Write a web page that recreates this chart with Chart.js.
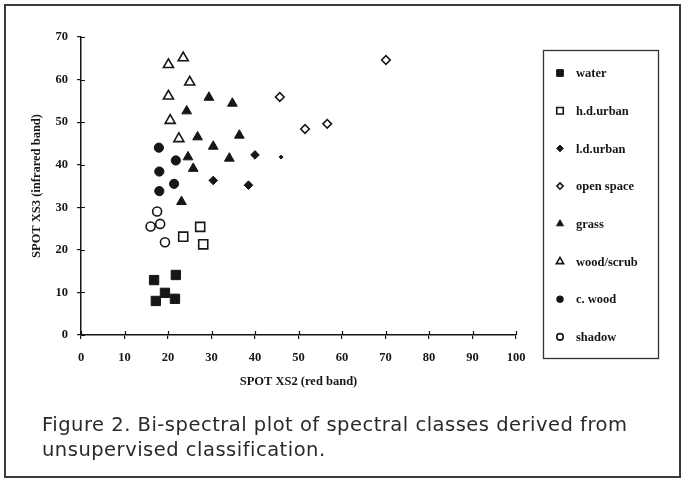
<!DOCTYPE html>
<html>
<head>
<meta charset="utf-8">
<script src="https://cdn.jsdelivr.net/npm/chart.js@4/dist/chart.umd.min.js"></script>
<style>
  html, body { margin: 0; padding: 0; background: #fff; }
  #wrap { width: 684px; height: 481px; position: relative; }
</style>
</head>
<body>
<div id="wrap"><canvas id="c" width="684" height="481"></canvas></div>
<script>
// ---- data ----
const classNames = ["water", "h.d.urban", "l.d.urban", "open space", "grass", "wood/scrub", "c. wood", "shadow"];

const water     = [[16.8, 12.9], [21.8, 14.1], [19.3, 9.9], [17.2, 8.0], [21.6, 8.5]];
const hdUrban   = [[23.5, 23.1], [27.4, 25.4], [28.1, 21.3]];
const ldUrban   = [[40.0, 42.3], [30.4, 36.3], [38.5, 35.2], [46.0, 41.8]];
const openSpace = [[70.1, 64.6], [45.7, 55.9], [51.5, 48.4], [56.6, 49.6]];
const grass     = [[29.4, 55.8], [34.8, 54.4], [24.3, 52.6], [26.8, 46.5], [36.4, 46.9],
                   [30.4, 44.3], [24.6, 41.8], [34.1, 41.5], [25.8, 39.1], [23.1, 31.3]];
const woodScrub = [[20.1, 63.5], [23.5, 65.1], [25.0, 59.4], [20.1, 56.1], [20.5, 50.4], [22.5, 46.1]];
const cWood     = [[17.9, 44.0], [21.8, 41.0], [18.0, 38.4], [21.4, 35.5], [18.0, 33.8]];
const shadow    = [[17.5, 29.0], [16.0, 25.5], [18.2, 26.1], [19.3, 21.8]];

const xTicks = [0, 10, 20, 30, 40, 50, 60, 70, 80, 90, 100];
const yTicks = [0, 10, 20, 30, 40, 50, 60, 70];

const xTitle = "SPOT XS2 (red band)";
const yTitle = "SPOT XS3 (infrared band)";
const captionLines = ["Figure 2. Bi-spectral plot of spectral classes derived from",
                      "unsupervised classification."];

// ---- styling ----
const INK = "#161616";
const serif = "'Liberation Serif', 'Times New Roman', serif";
const toPts = arr => arr.map(p => ({x: p[0], y: p[1]}));

function ds(label, pts, style, filled, radius) {
  return {
    label: label,
    data: toPts(pts),
    pointStyle: style,
    pointRadius: radius,
    pointHoverRadius: radius,
    backgroundColor: filled ? INK : "#ffffff",
    borderColor: INK,
    borderWidth: filled ? 1 : 1.6,
    legendRadius: radius * 0.72
  };
}

const ldRadii = ldUrban.map((p, i) => i === ldUrban.length - 1 ? 2 : 4.3);

const datasets = [
  ds(classNames[0], water, "rect", true, 6.6),
  ds(classNames[1], hdUrban, "rect", false, 6.4),
  Object.assign(ds(classNames[2], ldUrban, "rectRot", true, 4.3), {pointRadius: ldRadii, pointHoverRadius: ldRadii, legendRadius: 3.4}),
  ds(classNames[3], openSpace, "rectRot", false, 4.3),
  ds(classNames[4], grass, "triangle", true, 5.6),
  ds(classNames[5], woodScrub, "triangle", false, 5.8),
  ds(classNames[6], cWood, "circle", true, 4.6),
  ds(classNames[7], shadow, "circle", false, 4.5)
];

function drawMarker(ctx, d, x, y, r) {
  ctx.save();
  ctx.fillStyle = d.backgroundColor;
  ctx.strokeStyle = d.borderColor;
  ctx.lineWidth = d.borderWidth;
  if (Chart.helpers && Chart.helpers.drawPoint) {
    Chart.helpers.drawPoint(ctx, {pointStyle: d.pointStyle, radius: r, rotation: 0, borderWidth: d.borderWidth}, x, y);
  }
  ctx.restore();
}

const decor = {
  id: "decor",
  beforeDraw(chart) {
    const ctx = chart.ctx;
    ctx.save();
    ctx.fillStyle = "#ffffff";
    ctx.fillRect(0, 0, chart.width, chart.height);
    ctx.restore();
  },
  afterDraw(chart) {
    const ctx = chart.ctx;
    const xs = chart.scales.x, ys = chart.scales.y;
    ctx.save();
    // inner halves of the crossing tick marks
    ctx.strokeStyle = INK;
    ctx.lineWidth = 1.2;
    ctx.beginPath();
    xTicks.forEach(v => {
      const px = Math.round(xs.getPixelForValue(v)) + 0.5;
      ctx.moveTo(px, ys.bottom); ctx.lineTo(px, ys.bottom - 4);
    });
    yTicks.forEach(v => {
      const py = Math.round(ys.getPixelForValue(v)) + 0.5;
      ctx.moveTo(xs.left, py); ctx.lineTo(xs.left + 4, py);
    });
    ctx.stroke();

    // legend box
    const lx = 543, ly = 50, lw = 115, lh = 308;
    ctx.strokeStyle = "#333";
    ctx.lineWidth = 1.3;
    ctx.strokeRect(lx + 0.5, ly + 0.5, lw, lh);
    ctx.font = "bold 12.5px " + serif;
    ctx.fillStyle = INK;
    ctx.textBaseline = "middle";
    ctx.textAlign = "left";
    chart.data.datasets.forEach((d, i) => {
      const y = 73 + i * 37.7;
      drawMarker(ctx, d, 560, y, d.legendRadius);
      ctx.fillStyle = INK;
      ctx.fillText(d.label, 576, y + 1);
    });

    // caption
    ctx.font = "19.5px 'DejaVu Sans', sans-serif";
    try { ctx.letterSpacing = "0.5px"; } catch (e) {}
    ctx.fillStyle = "#2a2a2a";
    ctx.textBaseline = "alphabetic";
    ctx.fillText(captionLines[0], 42, 431);
    ctx.fillText(captionLines[1], 42, 456);
    try { ctx.letterSpacing = "0px"; } catch (e) {}

    // outer frame
    ctx.strokeStyle = "#3a3a3a";
    ctx.lineWidth = 2;
    ctx.strokeRect(5, 5, 675, 472);
    ctx.restore();
  }
};

new Chart(document.getElementById("c"), {
  type: "scatter",
  data: { datasets: datasets },
  options: {
    responsive: false,
    animation: false,
    devicePixelRatio: 1,
    layout: { padding: { top: 37, right: 168, bottom: 86, left: 0 } },
    plugins: { legend: { display: false }, tooltip: { enabled: false } },
    scales: {
      x: {
        type: "linear", min: 0, max: 100,
        afterFit(scale) { scale.height = 60; },
        afterBuildTicks(scale) { scale.ticks = xTicks.map(v => ({value: v})); },
        grid: { display: true, drawOnChartArea: false, drawTicks: true, tickLength: 4, color: INK, lineWidth: 1.2 },
        border: { display: true, color: INK, width: 1.5 },
        ticks: { color: INK, padding: 11, maxRotation: 0, font: { family: serif, size: 12.5, weight: "bold" } },
        title: { display: true, text: xTitle, color: INK, padding: { top: 0, bottom: 6 }, font: { family: serif, size: 12.5, weight: "bold" } }
      },
      y: {
        type: "linear", min: 0, max: 70,
        afterFit(scale) { scale.width = 81; },
        afterBuildTicks(scale) { scale.ticks = yTicks.map(v => ({value: v})); },
        grid: { display: true, drawOnChartArea: false, drawTicks: true, tickLength: 4, color: INK, lineWidth: 1.2 },
        border: { display: true, color: INK, width: 1.5 },
        ticks: { color: INK, padding: 9, font: { family: serif, size: 12.5, weight: "bold" } },
        title: { display: true, text: yTitle, color: INK, padding: { top: 29, bottom: 0 }, font: { family: serif, size: 12.5, weight: "bold" } }
      }
    }
  },
  plugins: [decor]
});
</script>
</body>
</html>
